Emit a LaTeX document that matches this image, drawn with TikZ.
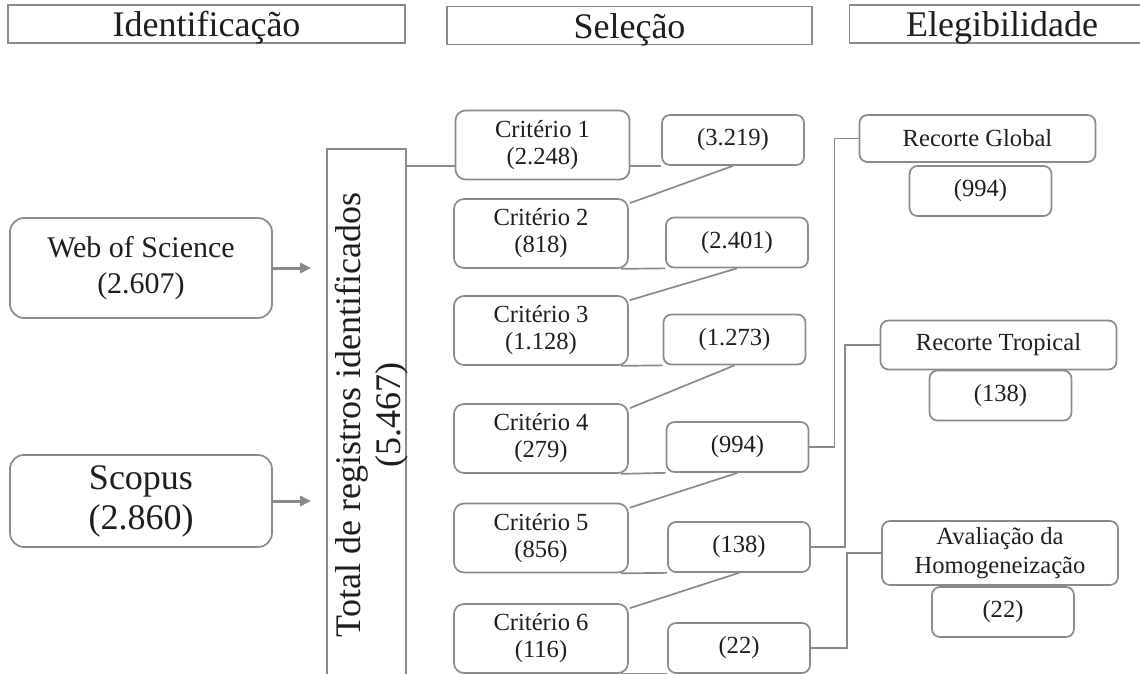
\documentclass[tikz,border=0pt]{standalone}
\usepackage{fontspec}
\setmainfont{Liberation Serif}
\usetikzlibrary{
  calc, % For coordinate calculations
  arrows.meta % For arrow tips
}
\definecolor{boxgray}{HTML}{8A8A8A}
\definecolor{inkgray}{HTML}{1E1E1E}

\begin{document}
\begin{tikzpicture}[
      x=0.5pt, y=-0.5pt, % pixel grid, y downwards
      line width=0.85pt, % Default line thickness
      >={Triangle[length=5.5pt, width=5pt]}, % Default arrow tip
      text=inkgray,
      headbox/.style={draw=boxgray, text height=14.5pt, text depth=1.5pt,
        inner xsep=0pt, inner ysep=1.5pt, font=\fontsize{18}{20}\selectfont},
      srcbox/.style={draw=boxgray, rounded corners=7pt, minimum width=131pt,
        align=center, inner sep=0pt},
      critbox/.style={draw=boxgray, rounded corners=5pt, minimum width=87pt,
        minimum height=34.5pt, align=center, inner sep=0pt,
        font=\fontsize{12.3}{13.5}\selectfont},
      countbox/.style={draw=boxgray, rounded corners=4pt, minimum width=71pt,
        minimum height=25pt, inner sep=0pt, font=\fontsize{12.3}{13.5}\selectfont},
      eligbox/.style={draw=boxgray, rounded corners=4pt, minimum width=118pt,
        align=center, inner sep=0pt, font=\fontsize{12.3}{14.5}\selectfont},
      link/.style={draw=boxgray, line width=0.85pt},
      feed/.style={boxgray, line width=1.5pt, ->, shorten >=7.5pt},
    ]
    \useasboundingbox (0,0) rectangle (1140,674);
    \clip (0,0) rectangle (1140,674);
    % Kopfzeile
    \node[headbox, minimum width=198.5pt] (hid) at (206.5,24) {Identificação};
    \node[headbox, minimum width=182.5pt] (hsel) at (629.5,25.5) {Seleção};
    \node[headbox, minimum width=152.5pt] (hel) at (1002,24) {Elegibilidade};
    % Quellen
    \node[srcbox, minimum height=50pt, font=\fontsize{15}{18}\selectfont]
      (wos) at (141,268) {Web of Science\\(2.607)};
    \node[srcbox, minimum height=46pt, font=\fontsize{18}{20}\selectfont]
      (scopus) at (141,501) {Scopus\\(2.860)};
    \node[draw=boxgray, minimum width=39.5pt, minimum height=281pt, inner sep=0pt]
      (total) at (366.5,430) {};
    \node[rotate=90, align=center, inner sep=0pt, font=\fontsize{18}{20}\selectfont]
      (totaltxt) at (372,415) {Total de registros identificados\\(5.467)};
    \draw[feed] (wos.east) -- (wos.east -| total.west);
    \draw[feed] (scopus.east) -- (scopus.east -| total.west);
    % Kriterien und Restmengen
    \node[critbox] (c1) at (542.5,145) {Critério 1\\(2.248)};
    \node[critbox] (c2) at (541,233.5) {Critério 2\\(818)};
    \node[critbox] (c3) at (541,330.5) {Critério 3\\(1.128)};
    \node[critbox] (c4) at (541,438.5) {Critério 4\\(279)};
    \node[critbox] (c5) at (541,538) {Critério 5\\(856)};
    \node[critbox] (c6) at (541,638.5) {Critério 6\\(116)};
    \node[countbox] (n1) at (733,140) {(3.219)};
    \node[countbox] (n2) at (737,242.5) {(2.401)};
    \node[countbox] (n3) at (734.5,339.5) {(1.273)};
    \node[countbox] (n4) at (737.5,447) {(994)};
    \node[countbox] (n5) at (739,547) {(138)};
    \node[countbox] (n6) at (739,648) {(22)};
    \draw[link] (total.east |- n1.south) -- (c1.west |- n1.south);
    \draw[link] (c1.east |- n1.south) -- (n1.south west);
    \foreach \i in {2,...,6}{
      \draw[link] ($(c\i.south east)+(-8,0)$) -- (n\i.south west);
    }
    \foreach \i/\j in {1/2,2/3,3/4,4/5,5/6}{
      \draw[link] (n\i.south) -- ($(c\j.north east)+(1,5)$);
    }
    % Elegibilidade
    \node[eligbox, minimum height=23.5pt] (g1) at (977.5,138.5) {Recorte Global};
    \node[countbox] (v1) at (980.5,191) {(994)};
    \node[eligbox, minimum height=24.5pt] (g2) at (998.5,345) {Recorte Tropical};
    \node[countbox] (v2) at (1000.5,395.5) {(138)};
    \node[eligbox, minimum height=32pt] (g3) at (1000,553) {Avaliação da\\Homogeneização};
    \node[countbox] (v3) at (1003,612) {(22)};
    \draw[link] (n4.east) -- ++(25,0) |- (g1.west);
    \draw[link] (n5.east) -- ++(34,0) |- (g2.west);
    \draw[link] (n6.east) -- ++(36,0) |- (g3.west);
  \end{tikzpicture}
\end{document}
